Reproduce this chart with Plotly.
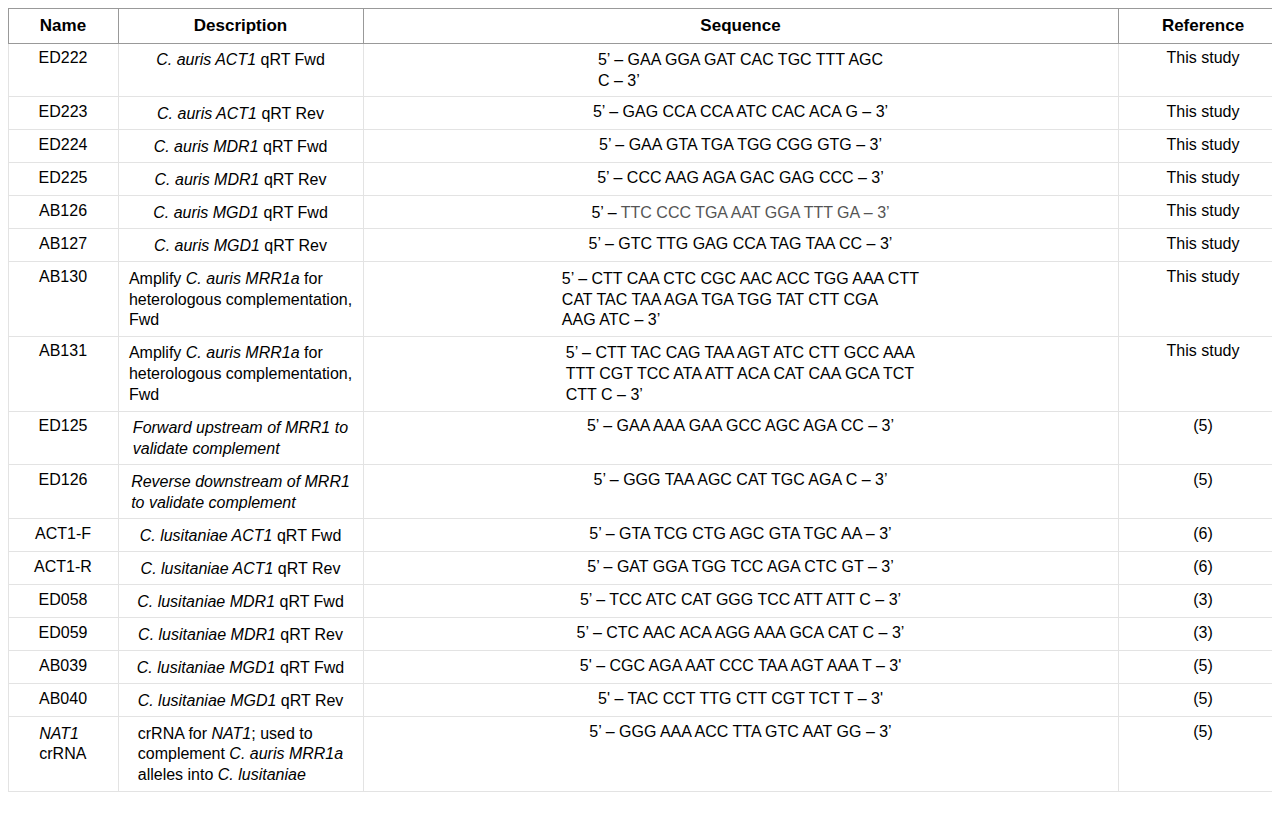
import plotly.graph_objects as go

headers = ["<b>Name</b>", "<b>Description</b>", "<b>Sequence</b>", "<b>Reference</b>"]
names = ["ED222", "ED223", "ED224", "ED225", "AB126", "AB127", "AB130", "AB131", "ED125", "ED126",
         "ACT1-F", "ACT1-R", "ED058", "ED059", "AB039", "AB040", "<i>NAT1</i><br>crRNA"]
descs = [
    "<i>C. auris ACT1</i> qRT Fwd", "<i>C. auris ACT1</i> qRT Rev",
    "<i>C. auris MDR1</i> qRT Fwd", "<i>C. auris MDR1</i> qRT Rev",
    "<i>C. auris MGD1</i> qRT Fwd", "<i>C. auris MGD1</i> qRT Rev",
    "Amplify <i>C. auris MRR1a</i> for<br>heterologous complementation,<br>Fwd",
    "Amplify <i>C. auris MRR1a</i> for<br>heterologous complementation,<br>Fwd",
    "<i>Forward upstream of MRR1 to<br>validate complement</i>",
    "<i>Reverse downstream of MRR1<br>to validate complement</i>",
    "<i>C. lusitaniae ACT1</i> qRT Fwd", "<i>C. lusitaniae ACT1</i> qRT Rev",
    "<i>C. lusitaniae MDR1</i> qRT Fwd", "<i>C. lusitaniae MDR1</i> qRT Rev",
    "<i>C. lusitaniae MGD1</i> qRT Fwd", "<i>C. lusitaniae MGD1</i> qRT Rev",
    "crRNA for <i>NAT1</i>; used to<br>complement <i>C. auris MRR1a</i><br>alleles into <i>C. lusitaniae</i>",
]
seqs = [
    "5’ – GAA GGA GAT CAC TGC TTT AGC<br>C – 3’",
    "5’ – GAG CCA CCA ATC CAC ACA G – 3’",
    "5’ – GAA GTA TGA TGG CGG GTG – 3’",
    "5’ – CCC AAG AGA GAC GAG CCC – 3’",
    "5’ – <span style='color:#555'>TTC CCC TGA AAT GGA TTT GA – 3’</span>",
    "5’ – GTC TTG GAG CCA TAG TAA CC – 3’",
    "5’ – CTT CAA CTC CGC AAC ACC TGG AAA CTT<br>CAT TAC TAA AGA TGA TGG TAT CTT CGA<br>AAG ATC – 3’",
    "5’ – CTT TAC CAG TAA AGT ATC CTT GCC AAA<br>TTT CGT TCC ATA ATT ACA CAT CAA GCA TCT<br>CTT C – 3’",
    "5’ – GAA AAA GAA GCC AGC AGA CC – 3’",
    "5’ – GGG TAA AGC CAT TGC AGA C – 3’",
    "5’ – GTA TCG CTG AGC GTA TGC AA – 3’",
    "5’ – GAT GGA TGG TCC AGA CTC GT – 3’",
    "5’ – TCC ATC CAT GGG TCC ATT ATT C – 3’",
    "5’ – CTC AAC ACA AGG AAA GCA CAT C – 3’",
    "5' – CGC AGA AAT CCC TAA AGT AAA T – 3'",
    "5' – TAC CCT TTG CTT CGT TCT T – 3'",
    "5’ – GGG AAA ACC TTA GTC AAT GG – 3’",
]
refs = ["This study"] * 8 + ["(5)", "(5)", "(6)", "(6)", "(3)", "(3)", "(5)", "(5)", "(5)"]

fig = go.Figure(go.Table(
    columnwidth=[110, 245, 755, 170],
    header=dict(values=headers, align="center", height=28,
                font=dict(family="Liberation Sans, Arial", size=17, color="black"),
                fill_color="white", line=dict(color="#999999", width=1)),
    cells=dict(values=[names, descs, seqs, refs], align="center", height=26,
               font=dict(family="Liberation Sans, Arial", size=16, color="black"),
               fill_color="white", line=dict(color="#e3e3e3", width=1)),
    domain=dict(x=[0, 1], y=[0, 1]),
))
fig.update_layout(width=1280, height=813, margin=dict(l=0, r=0, t=0, b=0),
                  paper_bgcolor="white")
fig.write_html("out.html")
